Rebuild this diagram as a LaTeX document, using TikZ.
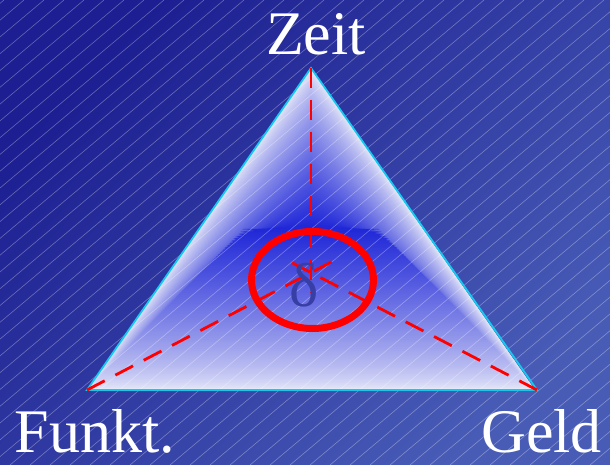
\documentclass[tikz,border=0pt]{standalone}
\usepackage{fontspec}
\setmainfont{Liberation Serif}
\usetikzlibrary{calc}
\definecolor{bgA}{RGB}{28,30,145}
\definecolor{bgB}{RGB}{72,92,182}
\definecolor{tblue}{RGB}{30,38,215}
\definecolor{tlight}{RGB}{230,232,248}
\definecolor{edgecyan}{RGB}{20,200,240}
\definecolor{deltablue}{RGB}{55,62,165}
\tikzset{
  hatch/.style={white, opacity=0.32, line width=0.6pt},
  redlink/.style={red, line width=2.8pt, dash pattern=on 20pt off 12pt},
  label/.style={white, font=\fontsize{62}{62}\selectfont, inner sep=0pt, text depth=0pt},
}
\begin{document}
\begin{tikzpicture}[x=1pt,y=-1pt]
\useasboundingbox (0,0) rectangle (610,465);
\shade[shading=axis, left color=bgA, right color=bgB, shading angle=45] (0,0) rectangle (610,465);
% triangle fill (nested)
\foreach \i in {0,...,90}{
  \pgfmathsetmacro\t{\i/90}
  \pgfmathsetmacro\sx{1-0.7*\t}
  \pgfmathsetmacro\sy{1-\t}
  \pgfmathsetmacro\pc{100*(\t^0.75)}
  \fill[tblue!\pc!tlight] (311,{228-160*\sy}) -- ({311-224*\sx},{228+162*\sy}) -- ({311+224*\sx},{228+162*\sy}) -- cycle;
}
% hatch
\begin{scope}
\clip (0,0) rectangle (610,465);
\foreach \x in {-570,-550,...,620}{
  \draw[hatch] (\x,465) -- ({\x+554},0);
}
\end{scope}
\coordinate (T) at (311,68);
\coordinate (L) at (87,390);
\coordinate (R) at (537,390);
\coordinate (I) at (311,272.6);
\draw[edgecyan, line width=1.8pt, line join=miter] (T) -- (L) -- (R) -- cycle;
\draw[redlink] (T) -- ($(T)!1.1!(I)$);
\draw[redlink] (L) -- ($(L)!1.12!(I)$);
\draw[redlink] (R) -- ($(R)!1.12!(I)$);
\node[label, text=deltablue, anchor=base] (d) at (304,306) {δ};
\draw[red, line width=7pt] (312.5,280) ellipse [x radius=61, y radius=48.5];
\node[label, anchor=base] (zeit) at (316,55) {Zeit};
\node[label, anchor=base] (funkt) at (95,452) {Funkt.};
\node[label, anchor=base] (geld) at (541.5,452) {Geld};
\end{tikzpicture}
\end{document}
